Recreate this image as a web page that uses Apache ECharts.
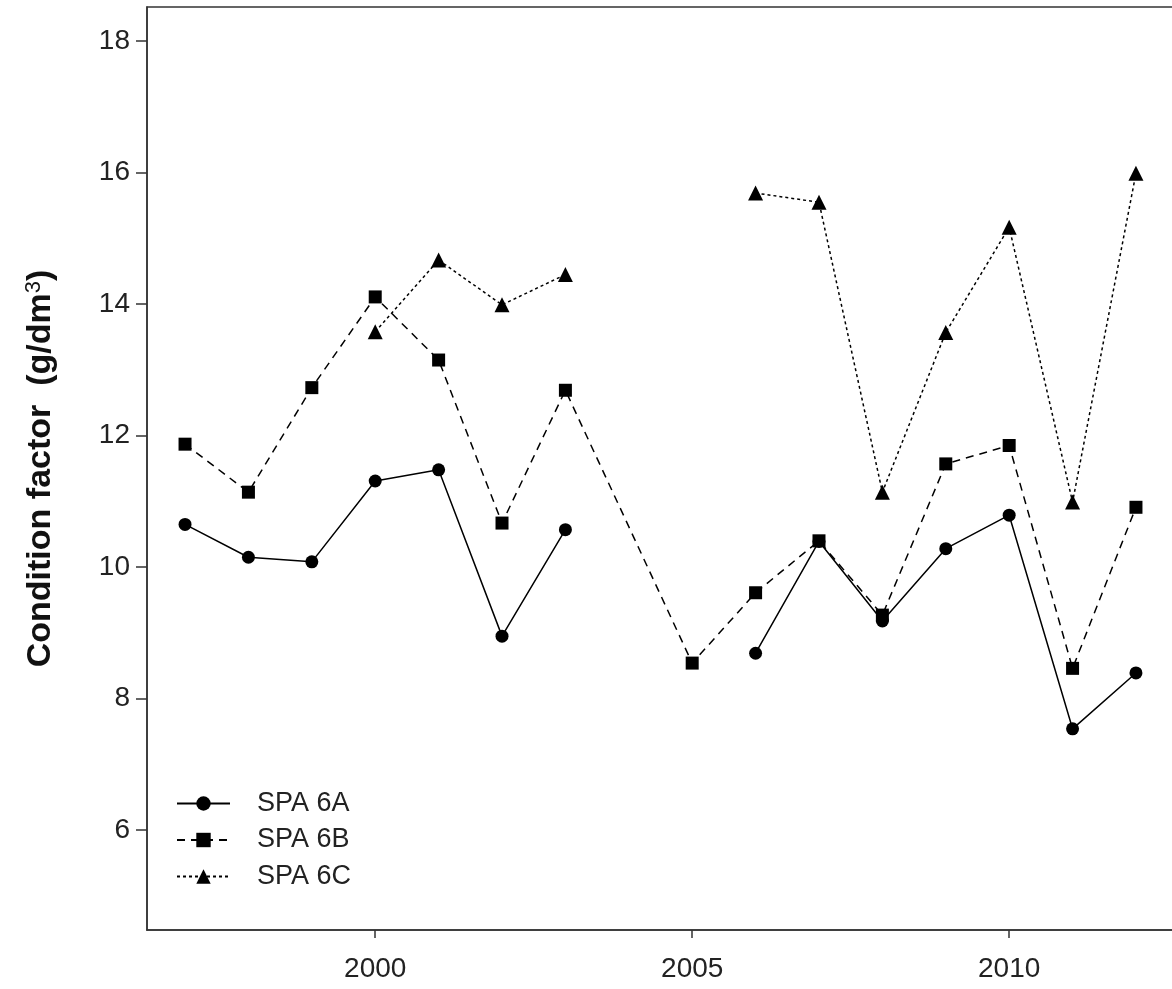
<!DOCTYPE html>
<html>
<head>
<meta charset="utf-8">
<script src="https://cdn.jsdelivr.net/npm/echarts@6/dist/echarts.min.js"></script>
<style>
html,body{margin:0;padding:0;background:#fff;}
#chart{width:1172px;height:989px;}
</style>
</head>
<body>
<div id="chart"></div>
<script>
const years = [1997,1998,1999,2000,2001,2002,2003,2004,2005,2006,2007,2008,2009,2010,2011,2012];
const spa6A = [10.65,10.15,10.08,11.31,11.48,8.95,10.57,null,null,8.69,10.39,9.18,10.28,10.79,7.54,8.39];
const spa6B = [11.87,11.14,12.73,14.11,13.15,10.67,12.69,null,8.54,9.61,10.40,9.27,11.57,11.85,8.46,10.91];
const spa6C = [null,null,null,13.58,14.67,13.99,14.45,null,null,15.69,15.55,11.14,13.57,15.17,10.99,15.99];
const xTicks = [2000,2005,2010];
const yTicks = [6,8,10,12,14,16,18];
const seriesNames = ['SPA 6A','SPA 6B','SPA 6C'];

const FONT = '"Liberation Sans", Arial, sans-serif';
function pairs(vals, dropNull){
  const out = [];
  years.forEach((y,i)=>{
    if (vals[i] === null) { if (!dropNull) out.push([y, null]); }
    else out.push([y, vals[i]]);
  });
  return out;
}

const chart = echarts.init(document.getElementById('chart'));
chart.setOption({
  backgroundColor: '#fff',
  animation: false,
  grid: {left: 147, width: 1027, top: 7, height: 923, outerBoundsMode: 'none', containLabel: false,
         show: true, borderColor: '#333', borderWidth: 1.5, backgroundColor: 'transparent'},
  legend: {
    orient: 'vertical', left: 171, top: 785,
    itemWidth: 53, itemHeight: 18, itemGap: 9.5,
    textStyle: {fontFamily: FONT, fontSize: 27, color: '#222', padding: [0,0,0,22]},
    data: seriesNames
  },
  xAxis: {
    type: 'value', min: 1996.4, max: 2012.6,
    axisLine: {show: true, lineStyle: {color: '#333', width: 1.5}},
    axisTick: {show: true, length: 8, lineStyle: {color: '#333', width: 1.5}, customValues: xTicks},
    axisLabel: {customValues: xTicks, fontFamily: FONT, fontSize: 28, color: '#222', margin: 25, formatter: v => String(v)},
    splitLine: {show: false}
  },
  yAxis: {
    type: 'value', min: 4.48, max: 18.52,
    name: '{a|Condition factor  (g/dm}{s|3}{a|)}',
    nameLocation: 'middle', nameRotate: 90, nameGap: 88,
    nameTextStyle: {
      rich: {
        a: {fontFamily: FONT, fontSize: 34, fontWeight: 'bold', color: '#111'},
        s: {fontFamily: FONT, fontSize: 22, color: '#111', verticalAlign: 'top', padding: [0,0,14,0]}
      }
    },
    axisLine: {show: true, lineStyle: {color: '#333', width: 1.5}},
    axisTick: {show: true, length: 11, lineStyle: {color: '#333', width: 1.5}, customValues: yTicks},
    axisLabel: {customValues: yTicks, fontFamily: FONT, fontSize: 28, color: '#222', margin: 17, formatter: v => String(v)},
    splitLine: {show: false}
  },
  series: [
    {name: seriesNames[0], type: 'line', data: pairs(spa6A, false), connectNulls: false,
     symbol: 'circle', symbolSize: 13, itemStyle: {color: '#000'},
     lineStyle: {color: '#000', width: 1.5, type: 'solid'}},
    {name: seriesNames[1], type: 'line', data: pairs(spa6B, true), connectNulls: true,
     symbol: 'rect', symbolSize: 13, itemStyle: {color: '#000'},
     lineStyle: {color: '#000', width: 1.5, type: [8,6]}},
    {name: seriesNames[2], type: 'line', data: pairs(spa6C, false), connectNulls: false,
     symbol: 'triangle', symbolSize: 15, itemStyle: {color: '#000'},
     lineStyle: {color: '#000', width: 1.5, type: [3,3]}}
  ]
});
</script>
</body>
</html>
